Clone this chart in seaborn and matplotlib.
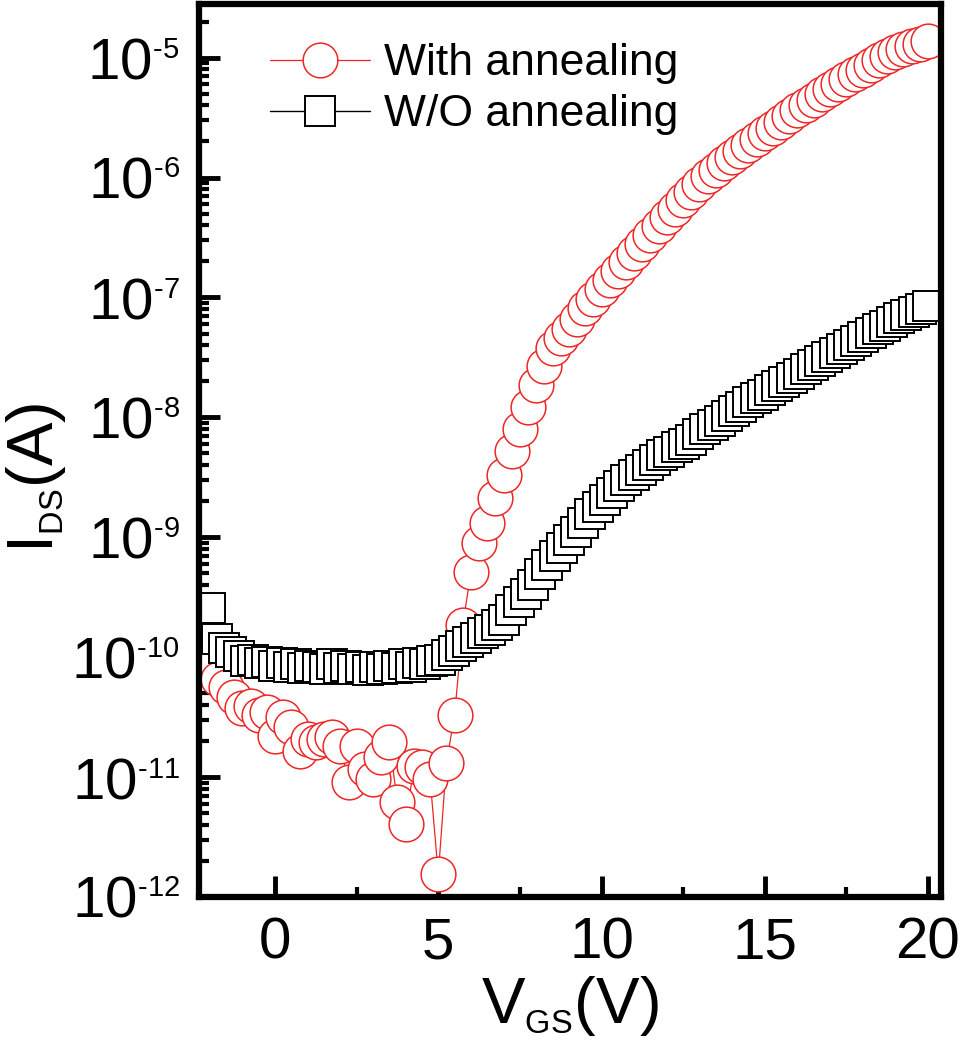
import numpy as np
import pandas as pd
import matplotlib
matplotlib.use("Agg")
import matplotlib.pyplot as plt
import seaborn as sns
from matplotlib.ticker import LogLocator, NullFormatter, MultipleLocator

try:
    import matplotlib._mathtext as _mt
    _mt.SHRINK_FACTOR = 0.5
except Exception:
    pass

# ---------------- data ----------------
# gate-voltage sweeps (V)
vgs_with = np.arange(-2.5, 20.001, 0.25)
vgs_wo = np.linspace(-2.0, 20.0, 101)

# log10(I_DS / A)
logI_with = [
    -9.89, -10.02, -10.08, -10.18, -10.25, -10.33, -10.42, -10.41, -10.48, -10.46,
    -10.66, -10.50, -10.58, -10.78, -10.68, -10.71, -10.68, -10.67, -10.74, -11.04,
    -10.74, -10.93, -11.02, -10.83, -10.71, -11.21, -11.39, -10.91, -10.92, -11.02,
    -11.81, -10.88, -10.48, -9.73, -9.29, -9.05, -8.88, -8.67, -8.48, -8.28,
    -8.10, -7.91, -7.73, -7.57, -7.42,
    -7.34, -7.26, -7.18, -7.09, -7.01, -6.93, -6.855, -6.78, -6.705, -6.63,
    -6.555, -6.48, -6.405, -6.33, -6.26, -6.19, -6.12, -6.05, -5.99, -5.935,
    -5.88, -5.83, -5.78, -5.73, -5.68, -5.63, -5.585, -5.535, -5.49, -5.44,
    -5.395, -5.35, -5.305, -5.26, -5.22, -5.18, -5.14, -5.10, -5.06, -5.02,
    -4.985, -4.955, -4.93, -4.905, -4.885, -4.865,
]
logI_wo = [
    -9.59, -9.85, -9.92, -9.96, -9.99, -10.03, -10.02, -10.05, -10.04, -10.07,
    -10.05, -10.08, -10.06, -10.09, -10.07, -10.08, -10.10, -10.06, -10.09, -10.07,
    -10.10, -10.08, -10.11, -10.08, -10.10, -10.07, -10.09, -10.06, -10.08, -10.05,
    -10.06, -10.03, -10.02, -9.98, -9.95, -9.91, -9.87, -9.84, -9.80, -9.77,
    -9.73, -9.69, -9.61, -9.54, -9.47, -9.40, -9.31, -9.23, -9.16, -9.09,
    -9.02, -8.96, -8.88, -8.81, -8.75, -8.69, -8.63, -8.57, -8.52, -8.48,
    -8.44, -8.40, -8.355, -8.315, -8.285, -8.25, -8.22, -8.185, -8.14, -8.10,
    -8.06, -8.03, -7.99, -7.95, -7.91, -7.875, -7.84, -7.81, -7.77, -7.74,
    -7.705, -7.67, -7.64, -7.60, -7.565, -7.53, -7.495, -7.46, -7.43, -7.395,
    -7.36, -7.33, -7.30, -7.265, -7.235, -7.205, -7.175, -7.15, -7.12, -7.095,
    -7.075,
]
series_labels = ["With annealing", "W/O annealing"]
x_ticks = [0, 5, 10, 15, 20]
y_exponents = [12, 11, 10, 9, 8, 7, 6, 5]

df_with = pd.DataFrame({"Vgs": vgs_with, "Ids": 10.0 ** np.array(logI_with)})
df_wo = pd.DataFrame({"Vgs": vgs_wo, "Ids": 10.0 ** np.array(logI_wo)})

# ---------------- style ----------------
sns.set_theme(style="ticks")
plt.rcParams["font.family"] = ["Liberation Sans", "DejaVu Sans"]
plt.rcParams["mathtext.fontset"] = "custom"
plt.rcParams["mathtext.rm"] = "Liberation Sans"
plt.rcParams["mathtext.it"] = "Liberation Sans:italic"
plt.rcParams["mathtext.bf"] = "Liberation Sans:bold"
plt.rcParams["text.color"] = "black"
plt.rcParams["axes.labelcolor"] = "black"
plt.rcParams["xtick.color"] = "black"
plt.rcParams["ytick.color"] = "black"

RED = "#ee2626"

fig = plt.figure(figsize=(9.61, 10.56), dpi=100)
ax = fig.add_axes([0.2071, 0.1506, 0.7721, 0.8456])

sns.lineplot(data=df_with, x="Vgs", y="Ids", ax=ax, estimator=None, sort=False,
             color=RED, lw=0.9, marker="o", markersize=25,
             markerfacecolor="white", markeredgecolor=RED, markeredgewidth=1.1,
             label=series_labels[0])
sns.lineplot(data=df_wo, x="Vgs", y="Ids", ax=ax, estimator=None, sort=False,
             color="black", lw=1.0, marker="s", markersize=21,
             markerfacecolor="white", markeredgecolor="black", markeredgewidth=1.4,
             label=series_labels[1])

ax.set_yscale("log")
ax.set_xlim(-2.33, 20.4)
ax.set_ylim(1e-12, 2.8e-5)

ax.set_xticks(x_ticks)
ax.set_xticklabels([str(v) for v in x_ticks])
ax.xaxis.set_minor_locator(MultipleLocator(2.5))

ax.set_yticks([10.0 ** -n for n in y_exponents])
ax.set_yticklabels([r"$\mathregular{10^{\text{-}%d}}$" % n for n in y_exponents])
ax.yaxis.set_minor_locator(LogLocator(base=10, subs=np.arange(2, 10), numticks=50))
ax.yaxis.set_minor_formatter(NullFormatter())

for s in ax.spines.values():
    s.set_linewidth(4.5)
    s.set_color("black")

ax.tick_params(axis="both", which="major", direction="in", length=15, width=3.5,
               labelsize=42, color="black", labelcolor="black",
               left=True, bottom=True, right=False, top=False)
ax.tick_params(axis="both", which="minor", direction="in", length=7, width=3,
               color="black", left=True, bottom=True, right=False, top=False)
ax.tick_params(axis="y", which="major", pad=14)
ax.tick_params(axis="x", which="major", pad=14)

ax.set_xlabel(r"$\mathregular{V_{GS}(V)}$", fontsize=47, color="black")
ax.set_ylabel(r"$\mathregular{I_{DS}(A)}$", fontsize=47, color="black")
ax.xaxis.set_label_coords(0.5, -0.086)
ax.yaxis.set_label_coords(-0.177, 0.47)

leg = ax.legend(loc="upper left", bbox_to_anchor=(0.096, 0.956), frameon=False,
                fontsize=32, handlelength=2.25, handletextpad=0.3, borderpad=0,
                borderaxespad=0, labelspacing=0.22, markerscale=1.0)
for t in leg.get_texts():
    t.set_color("black")

ax.grid(False)
fig.savefig("out.png", dpi=100, facecolor="white")
